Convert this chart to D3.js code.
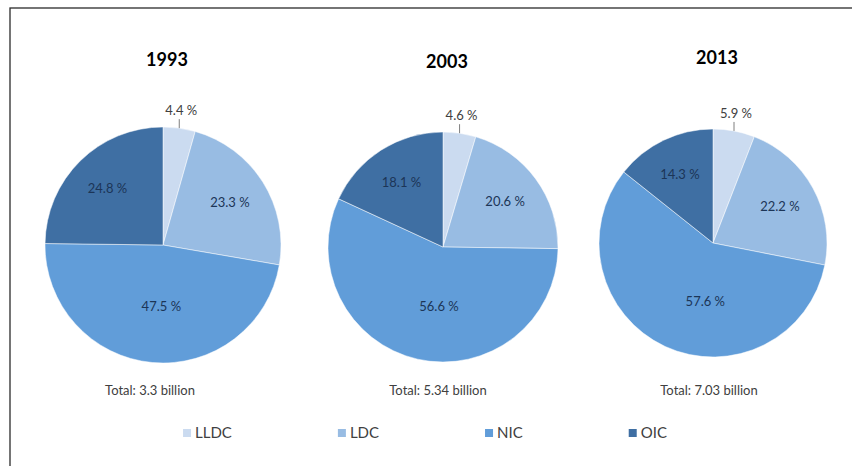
<!DOCTYPE html>
<html>
<head>
<meta charset="utf-8">
<script src="https://cdn.jsdelivr.net/npm/d3@7"></script>
<style>
  html, body { margin: 0; padding: 0; background: #fff; }
  svg { display: block; }
  text { font-family: Lato, "Open Sans", sans-serif; }
</style>
</head>
<body>
<svg id="chart" width="852" height="466"></svg>
<script>
// Country groups and their shares (%) of the total in each year
const groups = ["LLDC", "LDC", "NIC", "OIC"];
const years = ["1993", "2003", "2013"];
const share1993 = [4.4, 23.3, 47.5, 24.8];
const share2003 = [4.6, 20.6, 56.6, 18.1];
const share2013 = [5.9, 22.2, 57.6, 14.3];
const totals = ["3.3", "5.34", "7.03"];

const shares = [share1993, share2003, share2013];

// Panel layout: pie centre, radius and caption placement
const panels = [
  { cx: 163, cy: 245, r: 118, totalX: 150 },
  { cx: 443, cy: 247, r: 115, totalX: 438 },
  { cx: 713, cy: 243, r: 114, totalX: 709 }
];

const color = d3.scaleOrdinal()
  .domain(groups)
  .range(["#cbdbf0", "#98bce3", "#619dd9", "#3f6fa3"]);

const svg = d3.select("#chart");

// Outer frame
svg.append("rect")
  .attr("x", 10).attr("y", 8)
  .attr("width", 860).attr("height", 480)
  .attr("fill", "none")
  .attr("stroke", "#2b2b2b")
  .attr("stroke-width", 1.3);

const pie = d3.pie().sort(null).value(d => d.value);

years.forEach((year, i) => {
  const p = panels[i];
  const data = groups.map((g, k) => ({ group: g, value: shares[i][k] }));
  const arcs = pie(data);
  const arc = d3.arc().innerRadius(0).outerRadius(p.r);

  const g = svg.append("g").attr("transform", `translate(${p.cx},${p.cy})`);

  g.selectAll("path.slice")
    .data(arcs)
    .join("path")
    .attr("class", "slice")
    .attr("d", arc)
    .attr("fill", d => color(d.data.group))
    .attr("stroke", "#ffffff")
    .attr("stroke-width", 0.5);

  // Labels: small slices get an outside label with a short leader line,
  // the dominant slice's label sits low, close to the vertical axis
  arcs.forEach(d => {
    const mid = (d.startAngle + d.endAngle) / 2;
    const txt = d3.format(".1f")(d.data.value) + " %";
    if (d.data.value < 8) {
      const ex = p.r * Math.sin(mid), ey = -p.r * Math.cos(mid);
      g.append("line")
        .attr("x1", ex).attr("y1", ey)
        .attr("x2", ex).attr("y2", ey - 9)
        .attr("stroke", "#7f7f7f")
        .attr("stroke-width", 1);
      g.append("text")
        .attr("x", ex + 2).attr("y", ey - 13)
        .attr("text-anchor", "middle")
        .attr("font-size", 13)
        .attr("fill", "#404040")
        .text(txt);
    } else {
      const big = d.data.value > 40;
      const lr = (big ? 0.52 : 0.67) * p.r;
      const a = big ? Math.PI + (mid - Math.PI) * 0.3 : mid;
      const lx = lr * Math.sin(a), ly = -lr * Math.cos(a);
      g.append("text")
        .attr("x", lx).attr("y", ly)
        .attr("dy", "0.35em")
        .attr("text-anchor", "middle")
        .attr("font-size", 13)
        .attr("fill", "#1c3557")
        .text(txt);
    }
  });

  // Year title
  svg.append("text")
    .attr("x", p.cx + 4).attr("y", p.cy - 185)
    .attr("dy", "0.35em")
    .attr("text-anchor", "middle")
    .attr("font-size", 18)
    .attr("font-weight", "bold")
    .attr("fill", "#000")
    .text(year);

  // Total caption
  svg.append("text")
    .attr("x", p.totalX).attr("y", 390)
    .attr("dy", "0.35em")
    .attr("text-anchor", "middle")
    .attr("font-size", 13)
    .attr("fill", "#404040")
    .text(`Total: ${totals[i]} billion`);
});

// Legend, laid out left to right with a constant gap and centred
const legend = svg.append("g");
const items = legend.selectAll("g.item")
  .data(groups)
  .join("g")
  .attr("class", "item");
items.append("rect")
  .attr("width", 8).attr("height", 8)
  .attr("y", -4)
  .attr("fill", d => color(d));
items.append("text")
  .attr("x", 12)
  .attr("dy", "0.35em")
  .attr("font-size", 15)
  .attr("fill", "#404040")
  .text(d => d);

const gap = 106;
let xPos = 0;
items.each(function() {
  const w = this.getBBox().width;
  d3.select(this).attr("transform", `translate(${xPos},0)`);
  xPos += w + gap;
});
const legendWidth = xPos - gap;
legend.attr("transform", `translate(${425 - legendWidth / 2},433)`);
</script>
</body>
</html>
